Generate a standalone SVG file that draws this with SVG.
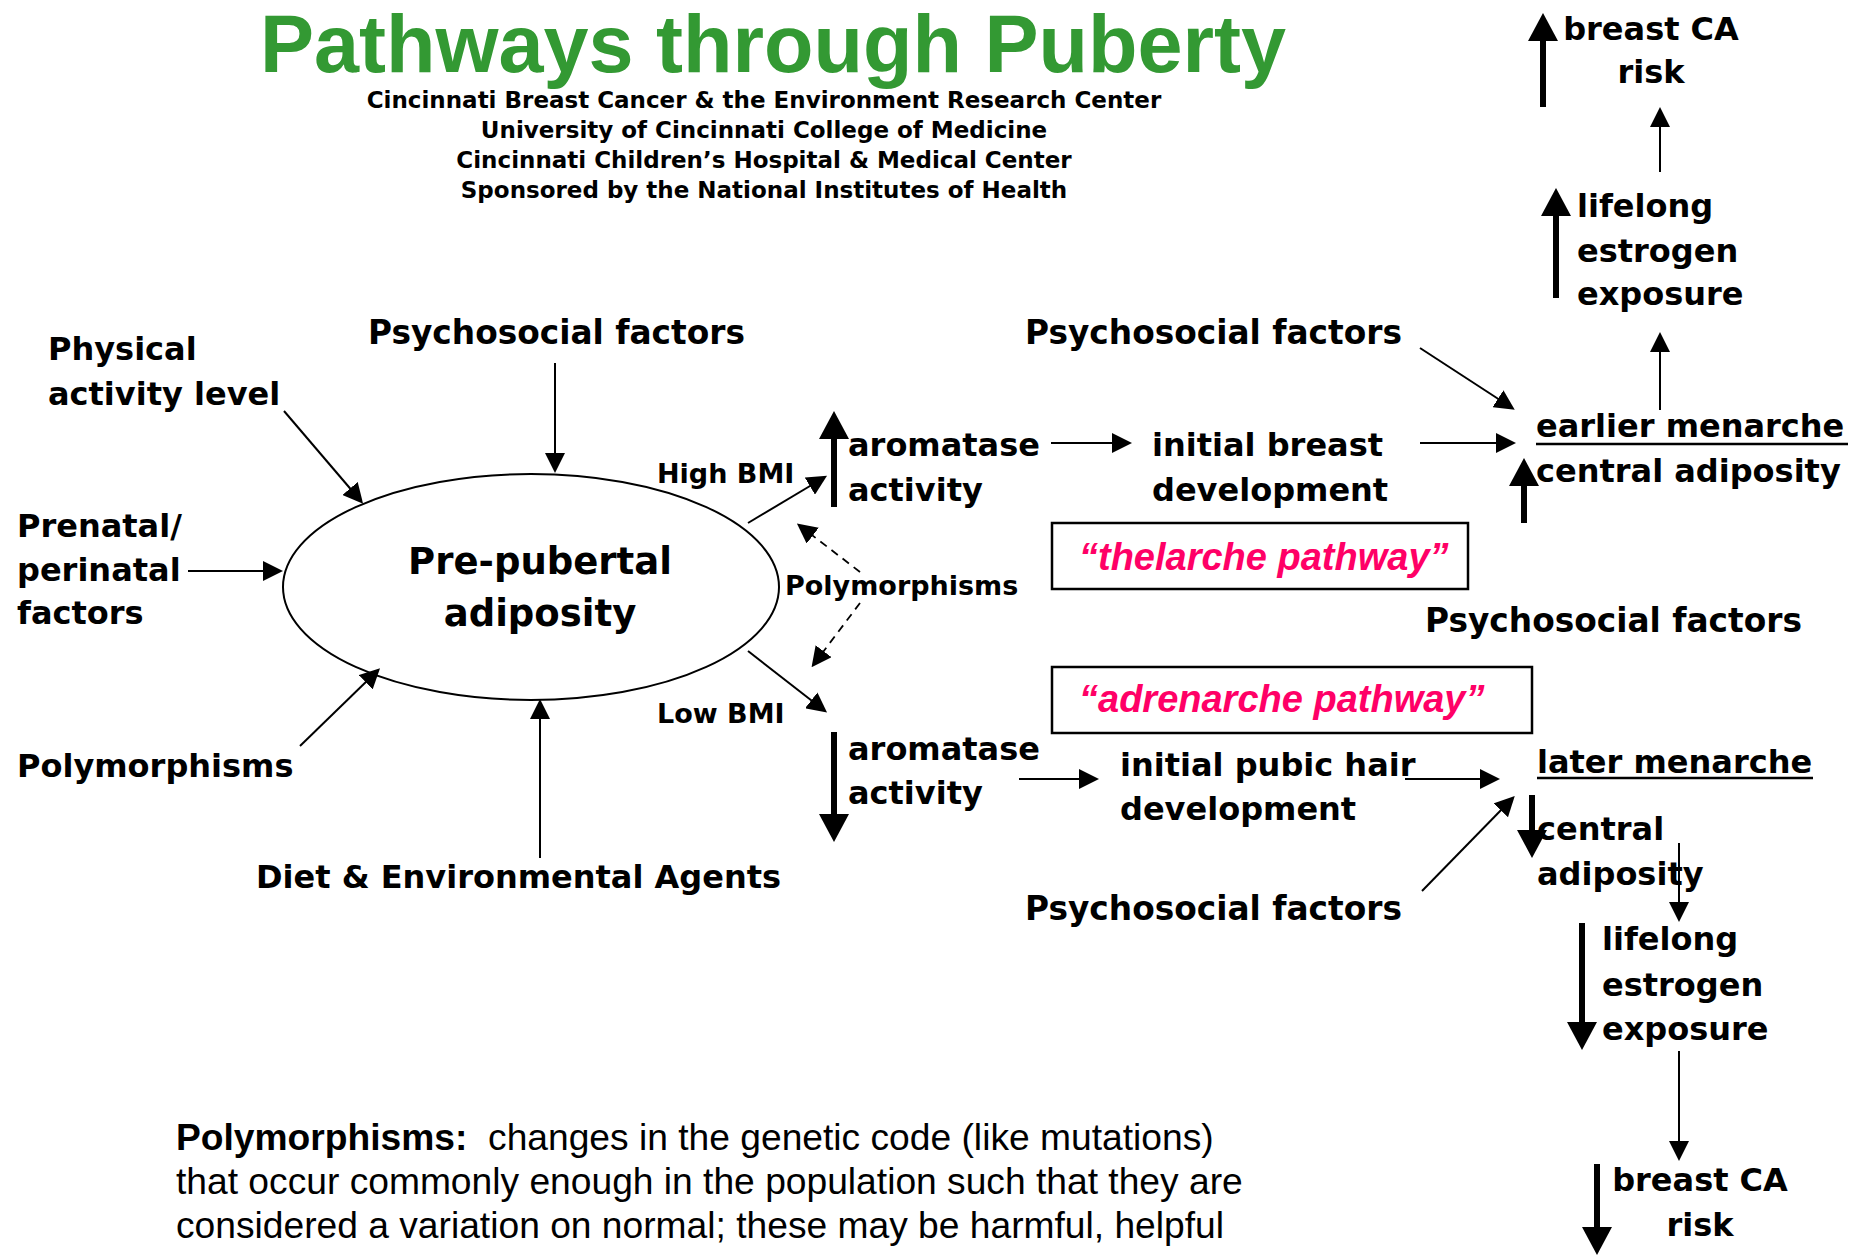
<svg xmlns="http://www.w3.org/2000/svg" width="1868" height="1256" viewBox="0 0 1868 1256">
<defs>
<style>
.lbl{font-family:"DejaVu Sans",Verdana,sans-serif;font-weight:bold;font-size:32px;fill:#000}
.ps{font-size:32.8px}
.sm{font-size:27px}
.big{font-size:37px}
.sub{font-family:"DejaVu Sans",Verdana,sans-serif;font-weight:bold;font-size:23px;fill:#000}
.title{font-family:"Liberation Sans",Arial,sans-serif;font-weight:bold;font-size:81px;fill:#339933}
.pink{font-family:"Liberation Sans",Arial,sans-serif;font-weight:bold;font-style:italic;font-size:38px;fill:#ff0066}
.para{font-family:"Liberation Sans",Arial,sans-serif;font-size:37.2px;fill:#000}
.thin{stroke:#000;stroke-width:2;fill:none;marker-end:url(#ah)}
.dash{stroke:#000;stroke-width:1.8;fill:none;stroke-dasharray:8 6;marker-end:url(#ah)}
.thick{stroke:#000;stroke-width:6;fill:none;marker-end:url(#ahb)}
.box{fill:none;stroke:#000;stroke-width:2.5}
.ul{stroke:#000;stroke-width:2.5}
</style>
<marker id="ah" markerUnits="userSpaceOnUse" markerWidth="20" markerHeight="20" refX="6" refY="10" orient="auto" viewBox="0 0 20 20">
<path d="M0,0 L20,10 L0,20 z" fill="#000"/>
</marker>
<marker id="ahb" markerUnits="userSpaceOnUse" markerWidth="28" markerHeight="30" refX="10" refY="15" orient="auto" viewBox="0 0 28 30">
<path d="M0,0 L28,15 L0,30 z" fill="#000"/>
</marker>
</defs>
<rect width="1868" height="1256" fill="#fff"/>

<g id="title">
<text class="title" x="773" y="72" text-anchor="middle">Pathways through Puberty</text>
<text class="sub" x="764" y="108" text-anchor="middle">Cincinnati Breast Cancer &amp; the Environment Research Center</text>
<text class="sub" x="764" y="138" text-anchor="middle">University of Cincinnati College of Medicine</text>
<text class="sub" x="764" y="168" text-anchor="middle">Cincinnati Children’s Hospital &amp; Medical Center</text>
<text class="sub" x="764" y="198" text-anchor="middle">Sponsored by the National Institutes of Health</text>
</g>

<g id="connectors">
<line class="thin" x1="555" y1="363" x2="555" y2="459"/>
<line class="thin" x1="284" y1="411" x2="354" y2="493"/>
<line class="thin" x1="188" y1="571" x2="269" y2="571"/>
<line class="thin" x1="300" y1="746" x2="370" y2="678"/>
<line class="thin" x1="540" y1="858" x2="540" y2="713"/>
<line class="thin" x1="748" y1="523" x2="815" y2="483"/>
<line class="thin" x1="748" y1="651" x2="816" y2="704"/>
<line class="dash" x1="860" y1="572" x2="808" y2="532"/>
<line class="dash" x1="860" y1="603" x2="820" y2="656"/>
<line class="thick" x1="834" y1="507" x2="834" y2="429"/>
<line class="thick" x1="834" y1="732" x2="834" y2="824"/>
<line class="thin" x1="1051" y1="443" x2="1118" y2="443"/>
<line class="thin" x1="1420" y1="443" x2="1502" y2="443"/>
<line class="thin" x1="1420" y1="348" x2="1503" y2="402"/>
<line class="thick" x1="1524" y1="523" x2="1524" y2="476"/>
<line class="thin" x1="1660" y1="410" x2="1660" y2="346"/>
<line class="thick" x1="1556" y1="298" x2="1556" y2="206"/>
<line class="thin" x1="1660" y1="172" x2="1660" y2="121"/>
<line class="thick" x1="1543" y1="107" x2="1543" y2="31"/>
<line class="thin" x1="1019" y1="779" x2="1085" y2="779"/>
<line class="thin" x1="1405" y1="779" x2="1486" y2="779"/>
<line class="thin" x1="1422" y1="891" x2="1505" y2="806"/>
<line class="thick" x1="1532" y1="795" x2="1532" y2="840"/>
<line class="thin" x1="1679" y1="843" x2="1679" y2="908"/>
<line class="thick" x1="1582" y1="923" x2="1582" y2="1032"/>
<line class="thin" x1="1679" y1="1051" x2="1679" y2="1147"/>
<line class="thick" x1="1597" y1="1164" x2="1597" y2="1237"/>
</g>

<g id="n-adiposity">
<ellipse cx="531" cy="587" rx="248" ry="113" fill="none" stroke="#000" stroke-width="2"/>
<text class="lbl big" x="540" y="574" text-anchor="middle">Pre-pubertal</text>
<text class="lbl big" x="540" y="626" text-anchor="middle">adiposity</text>
</g>
<g id="n-psych-top"><text class="lbl ps" x="368" y="344">Psychosocial factors</text></g>
<g id="n-physical">
<text class="lbl" x="48" y="360">Physical</text>
<text class="lbl" x="48" y="405">activity level</text>
</g>
<g id="n-prenatal">
<text class="lbl" x="17" y="537">Prenatal/</text>
<text class="lbl" x="17" y="581">perinatal</text>
<text class="lbl" x="17" y="624">factors</text>
</g>
<g id="n-poly-left"><text class="lbl" x="17" y="777">Polymorphisms</text></g>
<g id="n-diet"><text class="lbl" x="256" y="888">Diet &amp; Environmental Agents</text></g>
<g id="n-highbmi"><text class="lbl sm" x="657" y="483">High BMI</text></g>
<g id="n-lowbmi"><text class="lbl sm" x="657" y="723">Low BMI</text></g>
<g id="n-poly-mid"><text class="lbl sm" x="785" y="595">Polymorphisms</text></g>
<g id="n-arom-high">
<text class="lbl" x="848" y="456">aromatase</text>
<text class="lbl" x="848" y="501">activity</text>
</g>
<g id="n-breast-dev">
<text class="lbl" x="1152" y="456">initial breast</text>
<text class="lbl" x="1152" y="501">development</text>
</g>
<g id="n-psych-tr"><text class="lbl ps" x="1025" y="344">Psychosocial factors</text></g>
<g id="n-earlier">
<text class="lbl" x="1536" y="437">earlier menarche</text>
<line class="ul" x1="1536" y1="444" x2="1848" y2="444"/>
<text class="lbl" x="1536" y="482">central adiposity</text>
</g>
<g id="n-lifelong-up">
<text class="lbl" x="1577" y="217">lifelong</text>
<text class="lbl" x="1577" y="262">estrogen</text>
<text class="lbl" x="1577" y="305">exposure</text>
</g>
<g id="n-breastca-up">
<text class="lbl" x="1651" y="40" text-anchor="middle">breast CA</text>
<text class="lbl" x="1651" y="83" text-anchor="middle">risk</text>
</g>
<g id="n-thelarche">
<rect class="box" x="1052" y="523" width="416" height="66"/>
<text class="pink" x="1079" y="570">“thelarche pathway”</text>
</g>
<g id="n-psych-mr"><text class="lbl ps" x="1425" y="632">Psychosocial factors</text></g>
<g id="n-adrenarche">
<rect class="box" x="1052" y="667" width="480" height="66"/>
<text class="pink" x="1079" y="712">“adrenarche pathway”</text>
</g>
<g id="n-arom-low">
<text class="lbl" x="848" y="760">aromatase</text>
<text class="lbl" x="848" y="804">activity</text>
</g>
<g id="n-pubic">
<text class="lbl" x="1120" y="776">initial pubic hair</text>
<text class="lbl" x="1120" y="820">development</text>
</g>
<g id="n-later">
<text class="lbl" x="1537" y="773">later menarche</text>
<line class="ul" x1="1537" y1="778" x2="1813" y2="778"/>
<text class="lbl" x="1537" y="840">central</text>
<text class="lbl" x="1537" y="885">adiposity</text>
</g>
<g id="n-psych-low"><text class="lbl ps" x="1025" y="920">Psychosocial factors</text></g>
<g id="n-lifelong-down">
<text class="lbl" x="1602" y="950">lifelong</text>
<text class="lbl" x="1602" y="996">estrogen</text>
<text class="lbl" x="1602" y="1040">exposure</text>
</g>
<g id="n-breastca-down">
<text class="lbl" x="1700" y="1191" text-anchor="middle">breast CA</text>
<text class="lbl" x="1700" y="1236" text-anchor="middle">risk</text>
</g>
<g id="n-note">
<text class="para" x="176" y="1150" xml:space="preserve"><tspan font-weight="bold">Polymorphisms:</tspan>  changes in the genetic code (like mutations)</text>
<text class="para" x="176" y="1194">that occur commonly enough in the population such that they are</text>
<text class="para" x="176" y="1238">considered a variation on normal; these may be harmful, helpful</text>
</g>
</svg>
